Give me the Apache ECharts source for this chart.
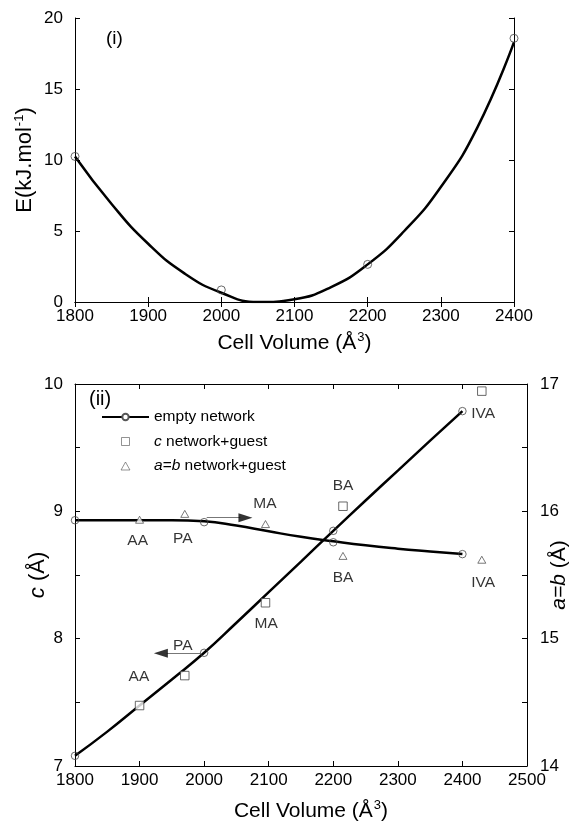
<!DOCTYPE html>
<html lang="en">
<head>
<meta charset="UTF-8">
<title>Cell volume</title>
<script src="https://cdn.jsdelivr.net/npm/echarts@6/dist/echarts.min.js"></script>
<style>
    html, body { margin: 0; padding: 0; background: #fff; }
    #main { width: 574px; height: 825px; }
</style>
</head>
<body>
<div id="main"></div>
<script>
// (i) energy against cell volume
var volPts = [1800, 2000, 2200, 2400];
var energyPts = [10.25, 0.85, 2.65, 18.57];
var fitVol = [1800, 1850, 1900, 1950, 2000, 2050, 2100, 2150, 2200, 2250, 2300, 2350, 2400];
var energyFit = [10.25, 6.9, 4.1, 2.0, 0.65, 0.0, 0.2, 1.05, 2.65, 5.0, 8.1, 12.3, 18.3];

// (ii) lattice parameters, empty network
var emptyC = [7.08, 7.889, 8.847, 9.787];
var emptyA = [15.93, 15.915, 15.757, 15.664];
var cFit = [7.08, 7.27, 7.475, 7.68, 7.889, 8.125, 8.365, 8.605, 8.847, 9.085, 9.32, 9.555, 9.787];
var aFit = [15.93, 15.93, 15.93, 15.93, 15.922, 15.888, 15.843, 15.80, 15.765, 15.733, 15.707, 15.685, 15.664];

// network + guest
var guestNames = ['AA', 'PA', 'MA', 'BA', 'IVA'];
var guestVol = [1900, 1970, 2095, 2215, 2430];
var guestC = [7.475, 7.71, 8.282, 9.04, 9.944];
var guestA = [15.934, 15.98, 15.90, 15.65, 15.62];

// text tags (placed on the c axis)
var tagText = ['AA', 'PA', 'MA', 'BA', 'IVA', 'AA', 'PA', 'MA', 'BA', 'IVA'];
var tagVol = [1897, 1967, 2094, 2215, 2432, 1899, 1967, 2096, 2215, 2432];
var tagC = [8.77, 8.785, 9.06, 8.48, 8.44, 7.70, 7.947, 8.117, 9.203, 9.767];

// arrows (c axis units)
var arrowFrom = [2004, 1996];
var arrowTo = [2056, 1942];
var arrowY = [8.95, 7.886];
var arrowHead = [2064, 1933];
var arrowRot = [-90, 90];

var FONT = '"Liberation Sans", Arial, Helvetica, sans-serif';

function zip(xs, ys) {
    return xs.map(function (x, i) { return [x, ys[i]]; });
}

var myChart = echarts.init(document.getElementById('main'), null, { renderer: 'canvas' });

var tick = { show: true, inside: true, length: 5, lineStyle: { color: '#000', width: 1 } };
var line = { show: true, lineStyle: { color: '#000', width: 1 } };
var lab = { color: '#000', fontSize: 17, fontFamily: FONT, showMinLabel: true, showMaxLabel: true };
var sup = { fontSize: 13, fontFamily: FONT, color: '#000', verticalAlign: 'bottom', padding: [0, 0, 11, 1] };
var nameStyle = function (size, extra) {
    var s = { color: '#000', fontSize: size, fontFamily: FONT,
        rich: { sup: sup, i: { fontStyle: 'italic', fontSize: size, fontFamily: FONT, color: '#000' } } };
    for (var k in extra) s[k] = extra[k];
    return s;
};
function plain(v) { return String(v); }
function intOnly(v) { return Math.abs(v - Math.round(v)) < 1e-6 ? String(Math.round(v)) : ''; }

var circleStyle = { color: 'transparent', borderColor: '#444', borderWidth: 1 };
var thinIcon = { color: '#fff', borderColor: '#555', borderWidth: 0.8 };

var option = {
    animation: false,
    backgroundColor: '#fff',
    grid: [
        { left: 75, right: 60, top: 18, height: 284, containLabel: false, outerBoundsMode: 'none' },
        { left: 75, right: 47, top: 384, height: 382, containLabel: false, outerBoundsMode: 'none' }
    ],
    xAxis: [
        { type: 'value', gridIndex: 0, position: 'bottom', min: 1800, max: 2400, interval: 100,
          axisLine: line, axisTick: tick, splitLine: { show: false },
          axisLabel: Object.assign({ margin: 6, formatter: plain }, lab),
          name: 'Cell Volume (Å{sup|3})', nameLocation: 'middle', nameGap: 29, nameMoveOverlap: false,
          nameTextStyle: nameStyle(21) },
        { type: 'value', gridIndex: 0, position: 'top', min: 1800, max: 2400, interval: 100,
          axisLine: line, axisTick: tick, splitLine: { show: false }, axisLabel: { show: false } },
        { type: 'value', gridIndex: 1, position: 'bottom', min: 1800, max: 2500, interval: 100,
          axisLine: line, axisTick: tick, splitLine: { show: false },
          axisLabel: Object.assign({ margin: 6, formatter: plain }, lab),
          name: 'Cell Volume (Å{sup|3})', nameLocation: 'middle', nameGap: 33, nameMoveOverlap: false,
          nameTextStyle: nameStyle(21, { padding: [0, 0, 0, 20] }) },
        { type: 'value', gridIndex: 1, position: 'top', min: 1800, max: 2500, interval: 100,
          axisLine: line, axisTick: tick, splitLine: { show: false }, axisLabel: { show: false } }
    ],
    yAxis: [
        { type: 'value', gridIndex: 0, position: 'left', min: 0, max: 20, interval: 5,
          axisLine: line, axisTick: tick, splitLine: { show: false },
          axisLabel: Object.assign({ margin: 12, formatter: plain }, lab),
          name: 'E(kJ.mol{sup|-1})', nameLocation: 'middle', nameRotate: 90, nameGap: 38, nameMoveOverlap: false,
          nameTextStyle: nameStyle(22) },
        { type: 'value', gridIndex: 0, position: 'right', min: 0, max: 20, interval: 5,
          axisLine: line, axisTick: tick, splitLine: { show: false }, axisLabel: { show: false } },
        { type: 'value', gridIndex: 1, position: 'left', min: 7, max: 10, interval: 0.5,
          axisLine: line, axisTick: tick, splitLine: { show: false },
          axisLabel: Object.assign({ margin: 12, formatter: intOnly }, lab),
          name: '{i|c} (Å)', nameLocation: 'middle', nameRotate: 90, nameGap: 26, nameMoveOverlap: false,
          nameTextStyle: nameStyle(22) },
        { type: 'value', gridIndex: 1, position: 'right', min: 14, max: 17, interval: 0.5,
          axisLine: line, axisTick: tick, splitLine: { show: false },
          axisLabel: Object.assign({ margin: 13, formatter: intOnly }, lab),
          name: '{i|a=b} (Å)', nameLocation: 'middle', nameRotate: 90, nameGap: 22, nameMoveOverlap: false,
          nameTextStyle: nameStyle(21) }
    ],
    legend: {
        left: 101, top: 408, padding: 0, orient: 'vertical', selectedMode: false,
        itemWidth: 47, itemHeight: 8, itemGap: 6.5, symbolKeepAspect: true,
        data: [
            { name: 'empty network' },
            { name: 'c network+guest', icon: 'path://M0,0L10,0L10,10L0,10Z', itemStyle: thinIcon },
            { name: 'a=b network+guest', icon: 'path://M5,0L10,9L0,9Z', itemStyle: thinIcon }
        ],
        formatter: function (name) {
            if (name === 'c network+guest') return '{i|c} network+guest';
            if (name === 'a=b network+guest') return '{i|a=b} network+guest';
            return name;
        },
        textStyle: { color: '#000', fontSize: 15.5, fontFamily: FONT, lineHeight: 18,
            rich: { i: { fontStyle: 'italic', fontSize: 15.5, fontFamily: FONT, color: '#000', lineHeight: 18 } } }
    },
    graphic: [
        { type: 'text', left: 106, top: 29, style: { text: '(i)', font: '19px ' + FONT, fill: '#000' } },
        { type: 'text', left: 89, top: 389, style: { text: '(ii)', font: '20px ' + FONT, fill: '#000' } }
    ],
    series: [
        { type: 'line', xAxisIndex: 0, yAxisIndex: 0, data: zip(fitVol, energyFit), smooth: 0.5,
          showSymbol: false, silent: true, lineStyle: { color: '#000', width: 2.5 }, z: 2 },
        { type: 'scatter', xAxisIndex: 0, yAxisIndex: 0, data: zip(volPts, energyPts),
          symbol: 'circle', symbolSize: 8, silent: true, itemStyle: circleStyle, z: 3 },

        { name: 'empty network', type: 'line', xAxisIndex: 2, yAxisIndex: 2, data: zip(fitVol, cFit),
          smooth: 0.5, showSymbol: false, symbol: 'circle', symbolSize: 7, silent: true,
          itemStyle: { color: '#fff', borderColor: '#555', borderWidth: 0.8 },
          lineStyle: { color: '#000', width: 2.5 }, z: 2 },
        { type: 'line', xAxisIndex: 2, yAxisIndex: 3, data: zip(fitVol, aFit),
          smooth: 0.5, showSymbol: false, silent: true, lineStyle: { color: '#000', width: 2.5 }, z: 2 },
        { type: 'scatter', xAxisIndex: 2, yAxisIndex: 2, data: zip(volPts, emptyC),
          symbol: 'circle', symbolSize: 7.5, silent: true, itemStyle: circleStyle, z: 3 },
        { type: 'scatter', xAxisIndex: 2, yAxisIndex: 3, data: zip(volPts, emptyA),
          symbol: 'circle', symbolSize: 7.5, silent: true, itemStyle: circleStyle, z: 3 },
        { name: 'c network+guest', type: 'scatter', xAxisIndex: 2, yAxisIndex: 2, data: zip(guestVol, guestC),
          symbol: 'rect', symbolSize: 8.5, silent: true,
          itemStyle: { color: '#fff', borderColor: '#444', borderWidth: 1 }, z: 4 },
        { name: 'a=b network+guest', type: 'scatter', xAxisIndex: 2, yAxisIndex: 3, data: zip(guestVol, guestA),
          symbol: 'triangle', symbolSize: [8, 7], silent: true,
          itemStyle: { color: '#fff', borderColor: '#444', borderWidth: 0.9 }, z: 4 },
        { type: 'scatter', xAxisIndex: 2, yAxisIndex: 2, silent: true, symbolSize: 1,
          itemStyle: { color: 'transparent' },
          data: tagText.map(function (t, i) { return { name: t, value: [tagVol[i], tagC[i]] }; }),
          label: { show: true, position: 'inside', formatter: '{b}', color: '#000', fontSize: 15.5, fontFamily: FONT },
          z: 5 },
        { type: 'scatter', xAxisIndex: 2, yAxisIndex: 2, silent: true,
          symbol: 'triangle', symbolSize: [9, 14], itemStyle: { color: '#000' },
          data: arrowHead.map(function (x, i) { return { value: [x, arrowY[i]], symbolRotate: arrowRot[i] }; }),
          markLine: {
              silent: true, symbol: ['none', 'none'], animation: false, label: { show: false },
              lineStyle: { color: '#777', width: 1, type: 'solid' },
              data: arrowFrom.map(function (x, i) {
                  return [{ coord: [x, arrowY[i]] }, { coord: [arrowTo[i], arrowY[i]] }];
              })
          },
          z: 5 }
    ]
};

myChart.setOption(option);
</script>
</body>
</html>
